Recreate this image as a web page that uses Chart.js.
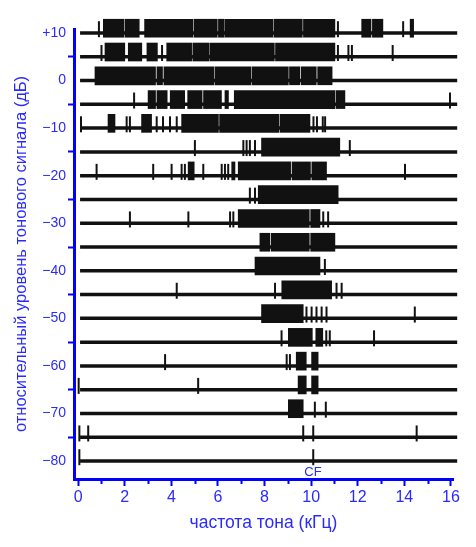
<!DOCTYPE html>
<html>
<head>
<meta charset="utf-8">
<script src="https://cdn.jsdelivr.net/npm/chart.js@4.4.1/dist/chart.umd.min.js"></script>
<style>
  html, body { margin: 0; padding: 0; background: #fff; }
  #wrap { width: 476px; height: 547px; position: relative; }
</style>
</head>
<body>
<div id="wrap"><canvas id="chart"></canvas></div>
<script>
// tone levels of the 19 traces (dB), top to bottom
const levels = [10, 5, 0, -5, -10, -15, -20, -25, -30, -35, -40, -45, -50, -55, -60, -65, -70, -75, -80];
const yTicks = [10, 0, -10, -20, -30, -40, -50, -60, -70, -80];
const xTicks = [0, 1, 2, 3, 4, 5, 6, 7, 8, 9, 10, 11, 12, 13, 14, 15, 16];
const traceFrom = 0.08;
const traceTo = 16.27;
const cfFreq = 10.08;

// dense spike bursts per trace, [from, to] in kHz
const bursts = [
  [[1.08, 1.97], [2.02, 2.62], [2.85, 4.92], [4.97, 5.97], [6.02, 6.27], [6.31, 8.37], [8.42, 9.62], [9.67, 11.02], [12.17, 12.57], [12.63, 13.08], [14.25, 14.4]],
  [[1.15, 2.0], [2.15, 2.73], [2.95, 3.4], [3.8, 4.87], [4.92, 5.62], [5.66, 8.42], [8.47, 11.02]],
  [[0.72, 3.32], [3.38, 3.62], [3.68, 5.82], [5.87, 7.42], [7.47, 9.02], [9.07, 9.52], [9.58, 10.22], [10.28, 10.9]],
  [[3.0, 3.32], [3.38, 3.82], [3.95, 4.57], [4.7, 5.32], [5.38, 6.15], [6.3, 6.45], [6.7, 11.02], [11.07, 11.45]],
  [[1.28, 1.58], [2.72, 3.15], [4.44, 6.02], [6.07, 8.62], [8.67, 9.95]],
  [[7.87, 11.23]],
  [[4.72, 4.98], [6.59, 6.73], [6.87, 9.12], [9.18, 9.97], [10.03, 10.66]],
  [[7.73, 11.16]],
  [[6.87, 9.92], [9.98, 10.38]],
  [[7.8, 8.22], [8.28, 9.92], [9.98, 11.02]],
  [[7.59, 10.38]],
  [[8.74, 10.88]],
  [[7.87, 9.66]],
  [[9.02, 10.05], [10.2, 10.5]],
  [[9.36, 9.79], [10.02, 10.3]],
  [[9.44, 9.79], [10.02, 10.3]],
  [[9.02, 9.66]],
  [],
  []
];

// isolated spikes per trace, kHz
const spikes = [
  [0.89, 11.15, 13.95],
  [1.0, 3.6, 11.15, 11.6, 11.75, 13.5],
  [],
  [2.4, 15.96],
  [0.12, 2.08, 2.22, 3.37, 3.64, 3.94, 4.23, 10.1, 10.25, 10.5, 10.6],
  [5.01, 7.09, 7.23, 7.37, 7.59, 11.66],
  [0.79, 3.22, 4.01, 4.44, 4.58, 5.37, 6.16, 6.3, 6.44, 14.03],
  [7.37, 7.59],
  [2.22, 4.73, 6.52, 6.66, 10.52, 10.73],
  [],
  [10.59],
  [4.23, 8.45, 11.09, 11.31],
  [9.8, 10.02, 10.23, 10.45, 10.66, 14.45],
  [8.73, 10.65, 10.8, 12.7],
  [3.73, 8.95, 9.09],
  [0.02, 5.15],
  [10.16, 10.63],
  [0.05, 0.43, 9.66, 10.09, 14.53],
  [0.05, 10.09]
];

const ink = '#111';
const axisBlue = '#0000ff';
const textBlue = '#2a2aff';
const fontFamily = '"Liberation Sans", Arial, sans-serif';
const burstLift = 1.0;  // bursts sit mostly above the baseline
const spikeLift = 0.8;

const baselineSets = levels.map(L => ({
  type: 'line',
  data: [{ x: traceFrom, y: L }, { x: traceTo, y: L }],
  borderColor: ink,
  borderWidth: 3.5,
  pointRadius: 0,
  clip: false
}));

const burstSet = {
  type: 'bar',
  indexAxis: 'y',
  data: bursts.flatMap((segs, i) => segs.map(s => ({ x: s, y: levels[i] + burstLift }))),
  backgroundColor: ink,
  barThickness: 18,
  clip: false
};

const spikeSet = {
  type: 'scatter',
  data: spikes.flatMap((fs, i) => fs.map(f => ({ x: f, y: levels[i] + spikeLift }))),
  pointStyle: 'line',
  pointRotation: 90,
  pointRadius: 8,
  pointHoverRadius: 8,
  pointBorderWidth: 2,
  pointBorderColor: ink,
  clip: false
};

// minor ticks on odd kHz and the CF label
const extras = {
  id: 'extras',
  afterDraw(chart) {
    const { ctx, chartArea, scales } = chart;
    ctx.save();
    ctx.strokeStyle = axisBlue;
    ctx.lineWidth = 2;
    xTicks.filter(v => v % 2 === 1).forEach(v => {
      const x = Math.round(scales.x.getPixelForValue(v)) + 0.5;
      ctx.beginPath();
      ctx.moveTo(x, chartArea.bottom + 2);
      ctx.lineTo(x, chartArea.bottom + 5);
      ctx.stroke();
    });
    ctx.fillStyle = textBlue;
    ctx.font = '13px ' + fontFamily;
    ctx.textAlign = 'center';
    ctx.textBaseline = 'middle';
    ctx.fillText('CF', scales.x.getPixelForValue(cfFreq), chartArea.bottom - 7);
    ctx.restore();
  }
};

new Chart(document.getElementById('chart'), {
  type: 'line',
  data: { datasets: [...baselineSets, burstSet, spikeSet] },
  options: {
    responsive: true,
    maintainAspectRatio: false,
    animation: false,
    events: [],
    layout: { padding: { top: 29, right: 23, left: 0, bottom: 0 } },
    plugins: { legend: { display: false }, tooltip: { enabled: false } },
    scales: {
      x: {
        type: 'linear',
        min: -0.18,
        max: 16.09,
        offset: false,
        afterBuildTicks: s => { s.ticks = xTicks.map(v => ({ value: v })); },
        afterFit: s => { s.height = 68; },
        ticks: {
          autoSkip: false,
          maxRotation: 0,
          padding: 2,
          color: textBlue,
          font: { family: fontFamily, size: 16 },
          callback: v => (v % 2 === 0 ? String(v) : '')
        },
        grid: {
          drawOnChartArea: false,
          tickLength: 7,
          tickWidth: 2,
          tickColor: c => (c.tick && c.tick.value % 2 === 0 ? axisBlue : 'rgba(0,0,0,0)')
        },
        border: { color: axisBlue, width: 3 },
        title: {
          display: true,
          text: 'частота тона (кГц)',
          color: textBlue,
          font: { family: fontFamily, size: 17.5 },
          padding: { top: 0, bottom: 13 }
        }
      },
      y: {
        type: 'linear',
        min: -83.78,
        max: 10.84,
        offset: false,
        afterBuildTicks: s => { s.ticks = yTicks.map(v => ({ value: v })); },
        afterFit: s => { s.width = 74; },
        ticks: {
          autoSkip: false,
          padding: 2,
          color: textBlue,
          font: { family: fontFamily, size: 14 },
          callback: v => (v > 0 ? '+' + v : v < 0 ? '\u2212' + (-v) : '0')
        },
        grid: { drawOnChartArea: false, tickLength: 6, tickWidth: 2, tickColor: axisBlue },
        border: { color: axisBlue, width: 3 },
        title: {
          display: true,
          text: 'относительный уровень тонового сигнала (дБ)',
          color: textBlue,
          font: { family: fontFamily, size: 16.5 },
          padding: { top: 12, bottom: 0 }
        }
      }
    }
  },
  plugins: [extras]
});
</script>
</body>
</html>
